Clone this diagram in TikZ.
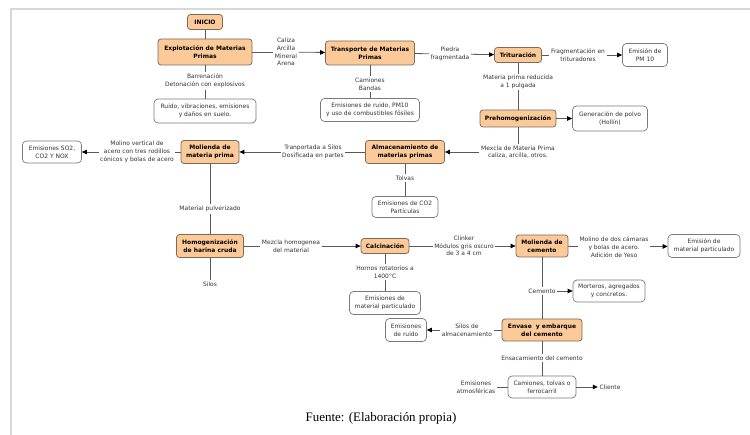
\documentclass[tikz,border=0pt]{standalone}
\usepackage{fontspec}
\setmainfont{DejaVu Sans}
\newfontfamily\seriffam{Liberation Serif}
\usetikzlibrary{arrows.meta}
\definecolor{ofill}{HTML}{FBCA98}
\definecolor{odraw}{HTML}{7D6B5A}
\definecolor{wdraw}{HTML}{7A7A7A}
\definecolor{lcol}{HTML}{5A5A5A}
\definecolor{tcol}{HTML}{333333}
\definecolor{frame}{HTML}{D8D8D8}
\begin{document}
\begin{tikzpicture}[x=1bp,y=-1bp,
  font=\fontsize{6}{7.8}\selectfont,
  proc/.style={draw=odraw, fill=ofill, rounded corners=3bp, line width=0.8bp, align=center, font=\fontsize{6}{7.8}\selectfont\bfseries, inner sep=1bp},
  emis/.style={draw=wdraw, fill=white, rounded corners=4bp, line width=0.7bp, align=center, text=tcol, inner sep=1bp},
  lab/.style={align=center, text=tcol, inner sep=1.5bp},
  conn/.style={draw=lcol, line width=0.8bp},
  arr/.style={conn, -{Triangle[length=5bp,width=4.5bp,color=black]}},
]
\useasboundingbox (0,0) rectangle (750,435);
\draw[frame, line width=1.5bp] (11,445) -- (11,9) -- (760,9);

% process nodes
\node[proc, minimum width=35bp, minimum height=15bp] (ini) at (205,22) {INICIO};
\node[proc, minimum width=94bp, minimum height=26bp] (expl) at (205,52) {Explotación de Materias\\Primas};
\node[proc, minimum width=89bp, minimum height=24bp] (trans) at (370,53) {Transporte de Materias\\Primas};
\node[proc, minimum width=47bp, minimum height=15bp] (trit) at (518,55) {Trituración};
\node[proc, minimum width=76bp, minimum height=17bp] (preh) at (518,118.5) {Prehomogenización};
\node[proc, minimum width=79bp, minimum height=23bp] (alm) at (405,152) {Almacenamiento de\\materias primas};
\node[proc, minimum width=58bp, minimum height=23bp] (molmp) at (210,152) {Molienda de\\materia prima};
\node[proc, minimum width=67bp, minimum height=23bp] (homog) at (210,246) {Homogenización\\de harina cruda};
\node[proc, minimum width=48bp, minimum height=15bp] (calc) at (385,246) {Calcinación};
\node[proc, minimum width=52bp, minimum height=22bp] (molc) at (542,246) {Molienda de\\cemento};
\node[proc, minimum width=80bp, minimum height=22bp] (env) at (542,330) {Envase\ \ y embarque\\del cemento};

% emission boxes
\node[emis, minimum width=102bp, minimum height=24bp] (ruido) at (205,111) {Ruido, vibraciones, emisiones\\y daños en suelo.};
\node[emis, minimum width=99bp, minimum height=23bp] (emruido) at (370,110) {Emisiones de ruido, PM10\\y uso de combustibles fósiles};
\node[emis, minimum width=45bp, minimum height=23bp] (pm10) at (645,55) {Emisión de\\PM 10};
\node[emis, minimum width=75bp, minimum height=25bp] (polvo) at (610,118.5) {Generación de polvo\\(Hollín)};
\node[emis, minimum width=59bp, minimum height=22bp] (so2) at (52,152) {Emisiones SO2,\\CO2 Y NOX};
\node[emis, minimum width=66bp, minimum height=21bp] (co2) at (405,207) {Emisiones de CO2\\Partículas};
\node[emis, minimum width=72bp, minimum height=23bp] (empart2) at (704,246) {Emisión de\\material particulado};
\node[emis, minimum width=71bp, minimum height=23bp] (empart1) at (385,303) {Emisiones de\\material particulado};
\node[emis, minimum width=72bp, minimum height=22bp] (morteros) at (609,291) {Morteros, agregados\\y concretos.};
\node[emis, minimum width=41bp, minimum height=23bp] (emruido2) at (406,330) {Emisiones\\de ruido};
\node[emis, minimum width=68bp, minimum height=22bp] (camiones) at (542,387) {Camiones, tolvas o\\ferrocarril};

% labels
\node[lab] (l1) at (286,52) {Caliza\\Arcilla\\Mineral\\Arena};
\node[lab] (l2) at (205,81) {Barrenación\\Detonación con explosivos};
\node[lab] (l3) at (370,84) {Camiones\\Bandas};
\node[lab] (l4) at (450,54) {Piedra\\fragmentada};
\node[lab] (l5) at (578,55) {Fragmentación en\\trituradores};
\node[lab] (l6) at (518,82) {Materia prima reducida\\a 1 pulgada};
\node[lab] (l7) at (518,152) {Mexcla de Materia Prima\\caliza, arcilla, otros.};
\node[lab] (l8) at (313,152) {Tranportada a Silos\\Dosificada en partes};
\node[lab] (l9) at (137,152) {Molino vertical de\\acero con tres rodillos\\cónicos y bolas de acero};
\node[lab] (l10) at (405,178) {Tolvas};
\node[lab] (l11) at (210,209) {Material pulverizado};
\node[lab] (l12) at (210,284) {Silos};
\node[lab] (l13) at (291,246) {Mezcla homogenea\\del material};
\node[lab] (l14) at (385,272) {Hornos rotatorios a\\1400°C};
\node[lab] (l15) at (464,246) {Clinker\\Módulos gris oscuro\\de 3 a 4 cm};
\node[lab] (l16) at (614,247) {Molino de dos cámaras\\y bolas de acero.\\Adición de Yeso};
\node[lab] (l17) at (542,291) {Cemento};
\node[lab] (l18) at (467,330) {Silos de\\almacenamiento};
\node[lab] (l19) at (542,358) {Ensacamiento del cemento};
\node[lab] (l20) at (476,387) {Emisiones\\atmosféricas};
\node[lab] (l21) at (610,387) {Cliente};

\node[font=\seriffam\fontsize{13}{15}\selectfont] (fuente) at (381,418) {Fuente: (Elaboración propia)};

% connectors
\draw[conn] (ini) -- (expl);
\draw[conn] (expl) -- (l1);
\draw[arr] (l1) -- (trans);
\draw[conn] (expl) -- (l2) -- (ruido);
\draw[conn] (trans) -- (l3) -- (emruido);
\draw[conn] (trans) -- (l4);
\draw[arr] (l4) -- (trit);
\draw[conn] (trit) -- (l5);
\draw[arr] (l5) -- (pm10);
\draw[conn] (trit) -- (l6) -- (preh);
\draw[arr] (preh) -- (polvo);
\draw[conn] (preh) -- (l7);
\draw[arr] (l7) -- (alm);
\draw[conn] (alm) -- (l8);
\draw[arr] (l8) -- (molmp);
\draw[conn] (molmp) -- (l9);
\draw[arr] (l9) -- (so2);
\draw[conn] (alm) -- (l10) -- (co2);
\draw[conn] (molmp) -- (l11) -- (homog);
\draw[conn] (homog) -- (l12);
\draw[conn] (homog) -- (l13);
\draw[arr] (l13) -- (calc);
\draw[conn] (calc) -- (l15);
\draw[arr] (l15) -- (molc);
\draw[conn] (calc) -- (l14) -- (empart1);
\draw[conn] (molc) -- (l16);
\draw[arr] (l16) -- (empart2);
\draw[conn] (molc) -- (l17) -- (env);
\draw[arr] (l17) -- (morteros);
\draw[conn] (env) -- (l18);
\draw[arr] (l18) -- (emruido2);
\draw[conn] (env) -- (l19) -- (camiones);
\draw[conn] (camiones) -- (l20);
\draw[arr] (camiones) -- (l21);
\end{tikzpicture}
\end{document}
